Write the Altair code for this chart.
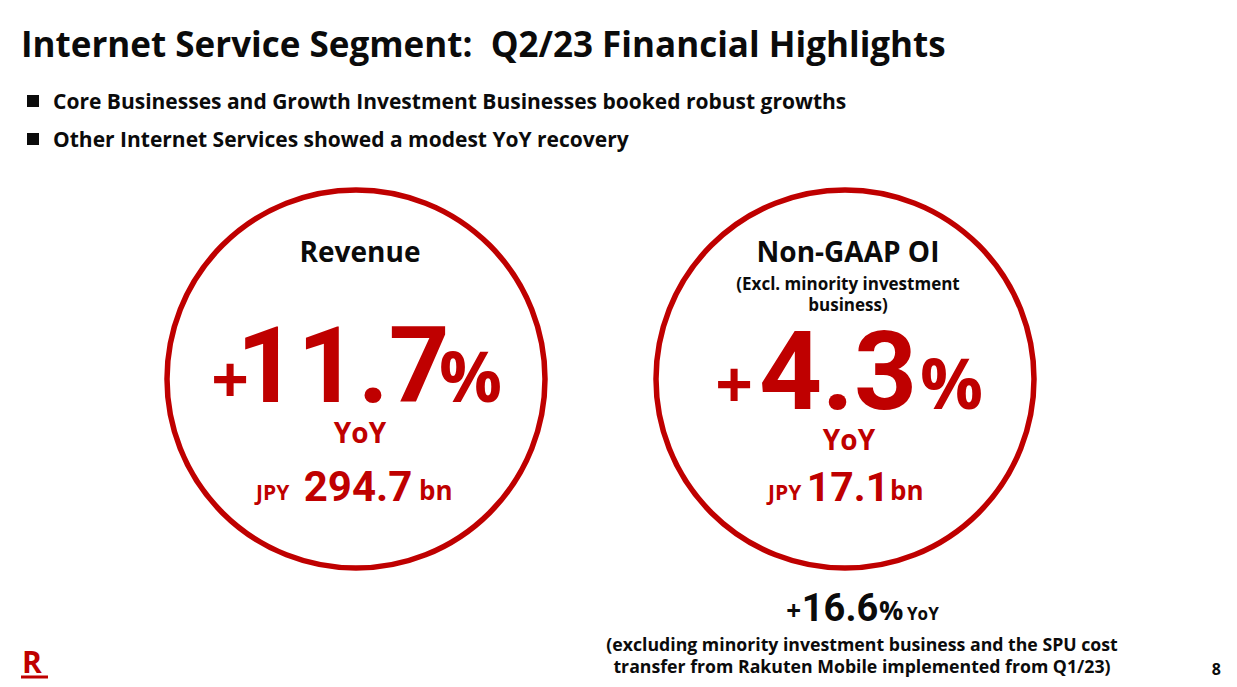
import altair as alt
import pandas as pd

# ---------------- content ----------------
TITLE = "Internet Service Segment:\u00a0 Q2/23 Financial Highlights"
BULLETS = [
    "Core Businesses and Growth Investment Businesses booked robust growths",
    "Other Internet Services showed a modest YoY recovery",
]
METRICS = ["Revenue", "Non-GAAP OI"]
METRIC_SUB = ["(Excl. minority investment", "business)"]
YOY_PCT = ["11.7", "4.3"]
AMOUNT_BN = ["294.7", "17.1"]
ADJ_YOY_PCT = "16.6"
NOTE = [
    "(excluding minority investment business and the SPU cost",
    "transfer from Rakuten Mobile implemented from Q1/23)",
]
PAGE = "8"

# ---------------- style / layout ----------------
RED = "#BF0000"
BLACK = "#0b0b0b"
FONT = "Open Sans"
NUMFONT = "Roboto"
W, H = 1221, 671
OFF = 8  # page margin, so domain == screen pixels

CIRCLE_CX = [356, 845]
CIRCLE_CY = [379, 379]
CIRCLE_D = 378

xs = alt.Scale(domain=[OFF, OFF + W], nice=False, zero=False)
ys = alt.Scale(domain=[OFF, OFF + H], nice=False, zero=False, reverse=True)


def text_layer(rows, align="left", font=FONT, weight="bold"):
    df = pd.DataFrame(rows, columns=["t", "x", "y", "fs", "c"])
    return alt.Chart(df).mark_text(
        align=align, baseline="alphabetic", font=font, fontWeight=weight
    ).encode(
        x=alt.X("x:Q", scale=xs, axis=None),
        y=alt.Y("y:Q", scale=ys, axis=None),
        text="t:N",
        size=alt.Size("fs:Q", scale=None, legend=None),
        color=alt.Color("c:N", scale=None, legend=None),
    )


# circles
circ_df = pd.DataFrame({"m": METRICS, "x": CIRCLE_CX, "y": CIRCLE_CY})
circles = alt.Chart(circ_df).mark_point(
    shape="circle", filled=False, strokeWidth=5.5, color=RED, opacity=1
).encode(
    x=alt.X("x:Q", scale=xs, axis=None),
    y=alt.Y("y:Q", scale=ys, axis=None),
    size=alt.value(CIRCLE_D ** 2),
)

# bullet squares
sq_df = pd.DataFrame({"b": BULLETS, "x": [33, 33], "y": [101, 139]})
squares = alt.Chart(sq_df).mark_square(color=BLACK, opacity=1).encode(
    x=alt.X("x:Q", scale=xs, axis=None),
    y=alt.Y("y:Q", scale=ys, axis=None),
    size=alt.value(144),
)

left_rows = [
    [TITLE, 21, 57, 35, BLACK],
    [BULLETS[0], 53, 109, 21, BLACK],
    [BULLETS[1], 53, 147, 21, BLACK],
    ["JPY", 256, 500, 21, RED],
    ["bn", 419, 500, 26, RED],
    ["JPY", 768, 500, 21, RED],
    ["bn", 890, 500, 26, RED],
    ["%", 439, 402, 70, RED],
    ["%", 920, 409, 70, RED],
    ["%", 879, 620, 27, BLACK],
    ["YoY", 907, 620, 17, BLACK],
]
right_rows = [
    ["+", 249, 403, 66, RED],
    ["+", 753, 408, 66, RED],
    ["+", 801, 620, 26, BLACK],
    [PAGE, 1221, 675, 16, BLACK],
]
center_rows = [
    [METRICS[0], 360, 262, 28, BLACK],
    [METRICS[1], 848, 262, 28, BLACK],
    [METRIC_SUB[0], 848, 290, 17, BLACK],
    [METRIC_SUB[1], 848, 311, 17, BLACK],
    ["YoY", 360, 443, 28, RED],
    ["YoY", 849, 450, 28, RED],
    [NOTE[0], 862, 651, 17.7, BLACK],
    [NOTE[1], 862, 673, 17.7, BLACK],
]
num_rows = [
    [YOY_PCT[0], 343, 402, 106, RED],
    [YOY_PCT[1], 838, 409, 110, RED],
    [AMOUNT_BN[0], 358, 501, 42, RED],
    [AMOUNT_BN[1], 848, 501, 41, RED],
    [ADJ_YOY_PCT, 840, 621, 38, BLACK],
]

# logo
logo_text = text_layer([["R", 22, 673, 30, RED]])
swoosh_df = pd.DataFrame({"x": [21], "x2": [48], "y": [675.5], "y2": [678.5]})
swoosh = alt.Chart(swoosh_df).mark_rect(color=RED).encode(
    x=alt.X("x:Q", scale=xs, axis=None), x2="x2:Q",
    y=alt.Y("y:Q", scale=ys, axis=None), y2="y2:Q",
)

chart = alt.layer(
    circles,
    squares,
    text_layer(left_rows),
    text_layer(right_rows, align="right"),
    text_layer(center_rows, align="center"),
    text_layer(num_rows, align="center", font=NUMFONT),
    logo_text,
    swoosh,
).properties(
    width=W, height=H, padding=0, autosize=alt.AutoSizeParams(type="none"),
    background="white",
).configure_view(stroke=None)

chart.save("out.html", embed_options={"renderer": "svg", "actions": False})
